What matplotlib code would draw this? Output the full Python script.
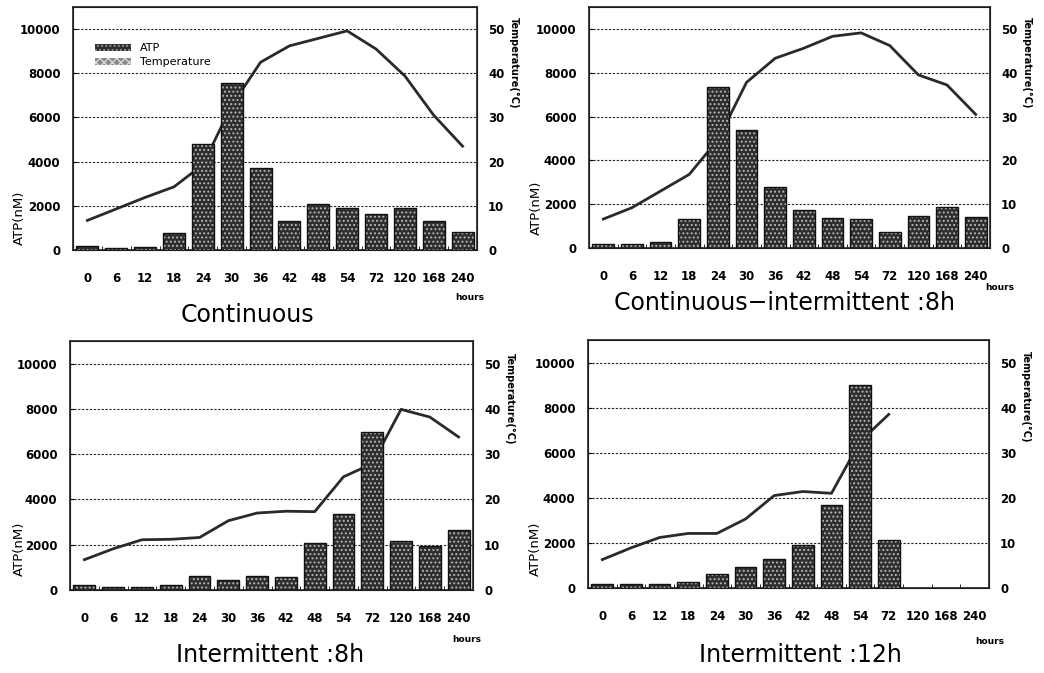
import numpy as np
import matplotlib
matplotlib.use("Agg")
import matplotlib.pyplot as plt
from matplotlib.patches import Patch

hours = ["0", "6", "12", "18", "24", "30", "36", "42", "48", "54", "72", "120", "168", "240"]

atp_continuous = [180, 100, 150, 750, 4800, 7550, 3700, 1300, 2100, 1890, 1620, 1920, 1300, 800]
temp_continuous = [6.7, 9.3, 11.9, 14.3, 19.3, 32.7, 42.5, 46.2, 47.9, 49.6, 45.5, 39.4, 30.5, 23.5]

atp_cont_int8 = [200, 180, 260, 1340, 7360, 5370, 2780, 1725, 1370, 1330, 730, 1450, 1880, 1420]
temp_cont_int8 = [6.6, 9.2, 13.0, 16.8, 24.7, 37.8, 43.3, 45.6, 48.3, 49.1, 46.2, 39.5, 37.2, 30.5]

atp_int8 = [220, 150, 120, 220, 640, 440, 610, 560, 2070, 3350, 7000, 2160, 1930, 2670]
temp_int8 = [6.7, 9.1, 11.1, 11.2, 11.6, 15.3, 17.0, 17.4, 17.3, 25.0, 27.9, 39.9, 38.2, 33.8]

atp_int12 = [190, 160, 190, 250, 600, 920, 1290, 1890, 3690, 9000, 2110, np.nan, np.nan, np.nan]
temp_int12 = [6.3, 8.9, 11.2, 12.1, 12.1, 15.3, 20.5, 21.4, 21.0, 32.5, 38.5, np.nan, np.nan, np.nan]

titles = ["Continuous", "Continuous\u2212intermittent :8h", "Intermittent :8h", "Intermittent :12h"]
atp_sets = [atp_continuous, atp_cont_int8, atp_int8, atp_int12]
temp_sets = [temp_continuous, temp_cont_int8, temp_int8, temp_int12]

plt.rcParams['hatch.linewidth'] = 0.9
plt.rcParams['font.family'] = ['DejaVu Sans']

W, H = 1044, 673
fig = plt.figure(figsize=(W / 100, H / 100), dpi=100)

# axes boxes in pixels: left, right, top, bottom
boxes = [(73, 477, 7, 250), (589, 990, 7, 248), (70, 473, 341, 590), (588, 989, 340, 588)]
title_pos = [(247, 315), (785, 303), (270, 655), (800, 655)]
hours_pos = [(470, 298), (1000, 287), (467, 639), (990, 642)]
atp_label_pos = [(19, 218), (536, 208), (19, 549), (535, 549)]

x = np.arange(len(hours))

for i in range(4):
    l, r, t, b = boxes[i]
    ax = fig.add_axes([l / W, 1 - b / H, (r - l) / W, (b - t) / H])
    ax2 = ax.twinx()
    ax.set_zorder(ax2.get_zorder() + 1)
    ax.patch.set_visible(False)

    ax.bar(x, atp_sets[i], width=0.76, color='#2e2e2e', edgecolor='#b8b8b8',
           hatch='....', linewidth=0, zorder=3)
    ax.bar(x, atp_sets[i], width=0.76, fill=False, edgecolor='#111111',
           linewidth=1.0, zorder=4)
    ax2.plot(x, temp_sets[i], color='#2a2a2a', lw=2.0, zorder=2)

    ax.set_xlim(-0.5, len(hours) - 0.5)
    ax.set_ylim(0, 11000)
    ax2.set_ylim(0, 55)
    ax.set_yticks([0, 2000, 4000, 6000, 8000, 10000])
    ax2.set_yticks([0, 10, 20, 30, 40, 50])
    ax.set_xticks(x)
    ax.set_xticklabels(hours)
    ax.set_xticks(x[:-1] + 0.5, minor=True)
    ax.tick_params(axis='x', which='major', length=0, pad=16, labelsize=8.5)
    ax.tick_params(axis='x', which='minor', length=3, direction='in')
    ax.tick_params(axis='y', length=3, direction='in', pad=9, labelsize=8.5)
    ax2.tick_params(axis='y', length=0, pad=8, labelsize=8.5)
    for lab in ax.get_xticklabels() + ax.get_yticklabels() + ax2.get_yticklabels():
        lab.set_fontweight('bold')

    ax.yaxis.grid(True, linestyle=(0, (2, 1.5)), color='#222222', linewidth=0.8)
    ax.set_axisbelow(True)
    for sp in ax.spines.values():
        sp.set_linewidth(1.2)
        sp.set_color('#222222')

    lx, ly = atp_label_pos[i]
    fig.text(lx / W, 1 - ly / H, "ATP(nM)", rotation=90, ha='center', va='center', fontsize=9.5)
    ax2.set_ylabel("Temperature(\u00b0C)", fontsize=7, rotation=-90, fontweight='bold')
    ax2.yaxis.set_label_coords(1.105, 0.77)

    tx, ty = title_pos[i]
    fig.text(tx / W, 1 - ty / H, titles[i], ha='center', va='center', fontsize=17)
    hx, hy = hours_pos[i]
    fig.text(hx / W, 1 - hy / H, "hours", ha='center', va='center', fontsize=6.5, fontweight='bold')

    if i == 0:
        handles = [Patch(facecolor='#2e2e2e', edgecolor='#999999', hatch='....', linewidth=0),
                   Patch(facecolor='#8a8a8a', edgecolor='#dddddd', hatch='xxxx', linewidth=0)]
        ax.legend(handles, ["ATP", "Temperature"], loc='upper left',
                  bbox_to_anchor=(0.054, 0.85), frameon=False, fontsize=8,
                  handlelength=3.3, handleheight=0.55, labelspacing=0.35,
                  borderpad=0, borderaxespad=0, handletextpad=0.8)

fig.savefig("out.png", dpi=100, facecolor='white')
